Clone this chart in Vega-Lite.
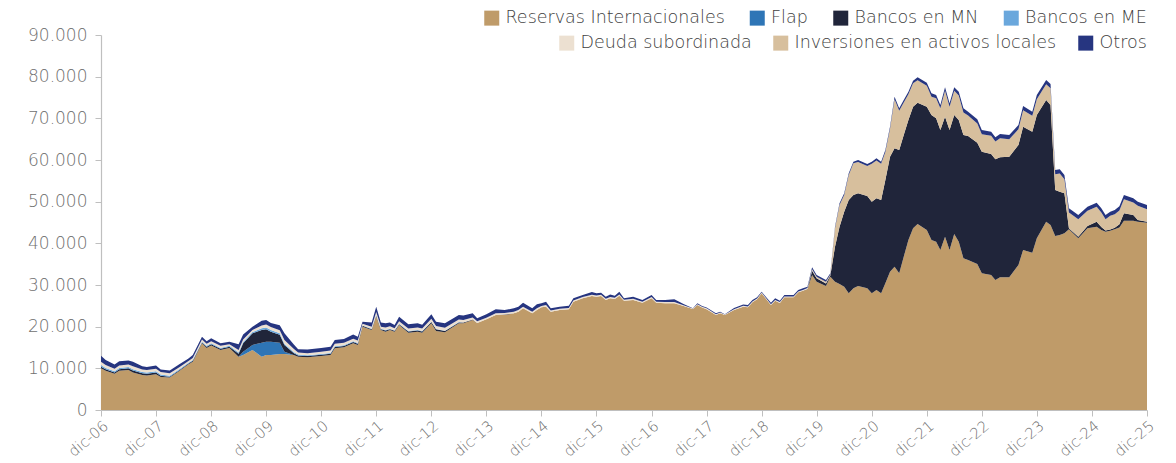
{
  "$schema": "https://vega.github.io/schema/vega-lite/v6.json",
  "width": 1046,
  "height": 375,
  "autosize": {"type": "none"},
  "padding": {"left": 101, "top": 35, "right": 29, "bottom": 53},
  "background": "white",
  "config": {"view": {"stroke": null}, "font": "DejaVu Sans"},
  "datasets": {
    "series": [
      {"code": "R", "serie": "Reservas Internacionales", "rank": 1},
      {"code": "F", "serie": "Flap", "rank": 2},
      {"code": "MN", "serie": "Bancos en MN", "rank": 3},
      {"code": "ME", "serie": "Bancos en ME", "rank": 4},
      {"code": "DS", "serie": "Deuda subordinada", "rank": 5},
      {"code": "IAL", "serie": "Inversiones en activos locales", "rank": 6},
      {"code": "O", "serie": "Otros", "rank": 7}
    ]
  },
  "data": {"values": [
    {"fecha":"2006-12-01","R":10000,"F":0,"MN":400,"ME":400,"DS":800,"IAL":0,"O":1400},
    {"fecha":"2007-01-01","R":9400,"F":0,"MN":400,"ME":300,"DS":700,"IAL":0,"O":1200},
    {"fecha":"2007-03-01","R":8700,"F":0,"MN":300,"ME":300,"DS":600,"IAL":0,"O":1000},
    {"fecha":"2007-04-01","R":9400,"F":0,"MN":400,"ME":300,"DS":600,"IAL":0,"O":1000},
    {"fecha":"2007-06-01","R":9600,"F":0,"MN":400,"ME":300,"DS":600,"IAL":0,"O":1000},
    {"fecha":"2007-07-01","R":9000,"F":0,"MN":500,"ME":300,"DS":700,"IAL":0,"O":1100},
    {"fecha":"2007-09-01","R":8400,"F":0,"MN":400,"ME":300,"DS":600,"IAL":0,"O":800},
    {"fecha":"2007-10-01","R":8300,"F":0,"MN":400,"ME":300,"DS":600,"IAL":0,"O":700},
    {"fecha":"2007-12-01","R":8600,"F":0,"MN":400,"ME":300,"DS":600,"IAL":0,"O":800},
    {"fecha":"2008-01-01","R":7900,"F":0,"MN":300,"ME":300,"DS":600,"IAL":0,"O":600},
    {"fecha":"2008-03-01","R":7800,"F":0,"MN":200,"ME":200,"DS":600,"IAL":0,"O":700},
    {"fecha":"2008-05-01","R":9300,"F":0,"MN":200,"ME":200,"DS":500,"IAL":0,"O":700},
    {"fecha":"2008-07-01","R":10900,"F":0,"MN":200,"ME":200,"DS":400,"IAL":0,"O":600},
    {"fecha":"2008-08-01","R":11600,"F":0,"MN":200,"ME":200,"DS":500,"IAL":0,"O":700},
    {"fecha":"2008-10-01","R":16000,"F":0,"MN":200,"ME":200,"DS":500,"IAL":0,"O":700},
    {"fecha":"2008-11-01","R":14900,"F":0,"MN":300,"ME":200,"DS":500,"IAL":0,"O":600},
    {"fecha":"2008-12-01","R":15500,"F":0,"MN":300,"ME":200,"DS":500,"IAL":0,"O":700},
    {"fecha":"2009-02-01","R":14400,"F":0,"MN":300,"ME":200,"DS":500,"IAL":0,"O":600},
    {"fecha":"2009-04-01","R":14900,"F":0,"MN":300,"ME":200,"DS":400,"IAL":0,"O":600},
    {"fecha":"2009-06-01","R":12800,"F":0,"MN":700,"ME":300,"DS":600,"IAL":0,"O":1400},
    {"fecha":"2009-07-01","R":13200,"F":800,"MN":2000,"ME":300,"DS":600,"IAL":0,"O":1200},
    {"fecha":"2009-09-01","R":14400,"F":1200,"MN":2800,"ME":300,"DS":500,"IAL":0,"O":800},
    {"fecha":"2009-11-01","R":12800,"F":3360,"MN":3040,"ME":400,"DS":700,"IAL":0,"O":1100},
    {"fecha":"2009-12-01","R":13200,"F":3200,"MN":3000,"ME":400,"DS":700,"IAL":0,"O":1100},
    {"fecha":"2010-01-01","R":13200,"F":3200,"MN":2400,"ME":400,"DS":700,"IAL":0,"O":1000},
    {"fecha":"2010-03-01","R":13440,"F":2700,"MN":1900,"ME":400,"DS":700,"IAL":0,"O":1200},
    {"fecha":"2010-04-01","R":13440,"F":560,"MN":1600,"ME":300,"DS":900,"IAL":0,"O":1600},
    {"fecha":"2010-06-01","R":13200,"F":0,"MN":500,"ME":200,"DS":800,"IAL":0,"O":1100},
    {"fecha":"2010-07-01","R":12800,"F":0,"MN":300,"ME":200,"DS":500,"IAL":0,"O":800},
    {"fecha":"2010-09-01","R":12640,"F":0,"MN":300,"ME":200,"DS":500,"IAL":0,"O":900},
    {"fecha":"2010-12-01","R":12960,"F":0,"MN":300,"ME":200,"DS":500,"IAL":0,"O":900},
    {"fecha":"2011-02-01","R":13200,"F":0,"MN":300,"ME":200,"DS":600,"IAL":0,"O":900},
    {"fecha":"2011-03-01","R":14800,"F":0,"MN":300,"ME":200,"DS":600,"IAL":0,"O":900},
    {"fecha":"2011-05-01","R":15040,"F":0,"MN":300,"ME":200,"DS":600,"IAL":0,"O":900},
    {"fecha":"2011-07-01","R":16000,"F":0,"MN":300,"ME":200,"DS":600,"IAL":0,"O":1000},
    {"fecha":"2011-08-01","R":15600,"F":0,"MN":300,"ME":200,"DS":600,"IAL":0,"O":900},
    {"fecha":"2011-09-01","R":20000,"F":0,"MN":200,"ME":100,"DS":400,"IAL":0,"O":500},
    {"fecha":"2011-11-01","R":19200,"F":0,"MN":200,"ME":100,"DS":500,"IAL":0,"O":1000},
    {"fecha":"2011-12-01","R":22500,"F":0,"MN":200,"ME":100,"DS":700,"IAL":0,"O":1300},
    {"fecha":"2012-01-01","R":19200,"F":0,"MN":200,"ME":100,"DS":500,"IAL":0,"O":1000},
    {"fecha":"2012-02-01","R":18800,"F":0,"MN":300,"ME":100,"DS":600,"IAL":0,"O":1000},
    {"fecha":"2012-03-01","R":19200,"F":0,"MN":200,"ME":100,"DS":600,"IAL":0,"O":900},
    {"fecha":"2012-04-01","R":18800,"F":0,"MN":200,"ME":100,"DS":500,"IAL":0,"O":800},
    {"fecha":"2012-05-01","R":20400,"F":0,"MN":200,"ME":100,"DS":600,"IAL":0,"O":1100},
    {"fecha":"2012-07-01","R":18560,"F":0,"MN":300,"ME":100,"DS":600,"IAL":0,"O":1000},
    {"fecha":"2012-09-01","R":18800,"F":0,"MN":300,"ME":100,"DS":600,"IAL":0,"O":1000},
    {"fecha":"2012-10-01","R":18560,"F":0,"MN":300,"ME":100,"DS":600,"IAL":0,"O":900},
    {"fecha":"2012-12-01","R":20800,"F":0,"MN":300,"ME":100,"DS":700,"IAL":0,"O":1100},
    {"fecha":"2013-01-01","R":18960,"F":0,"MN":400,"ME":100,"DS":700,"IAL":0,"O":1000},
    {"fecha":"2013-03-01","R":18640,"F":0,"MN":300,"ME":100,"DS":700,"IAL":0,"O":1100},
    {"fecha":"2013-06-01","R":20800,"F":0,"MN":200,"ME":100,"DS":600,"IAL":0,"O":1100},
    {"fecha":"2013-07-01","R":20800,"F":0,"MN":200,"ME":0,"DS":600,"IAL":0,"O":1100},
    {"fecha":"2013-09-01","R":21600,"F":0,"MN":100,"ME":0,"DS":500,"IAL":0,"O":1000},
    {"fecha":"2013-10-01","R":20900,"F":0,"MN":0,"ME":0,"DS":400,"IAL":0,"O":700},
    {"fecha":"2013-12-01","R":21760,"F":0,"MN":0,"ME":0,"DS":400,"IAL":0,"O":800},
    {"fecha":"2014-02-01","R":22800,"F":0,"MN":0,"ME":0,"DS":400,"IAL":0,"O":960},
    {"fecha":"2014-04-01","R":22800,"F":0,"MN":100,"ME":0,"DS":400,"IAL":0,"O":700},
    {"fecha":"2014-06-01","R":23200,"F":0,"MN":0,"ME":0,"DS":400,"IAL":0,"O":800},
    {"fecha":"2014-07-01","R":23600,"F":0,"MN":0,"ME":0,"DS":400,"IAL":0,"O":800},
    {"fecha":"2014-08-01","R":24400,"F":0,"MN":0,"ME":0,"DS":400,"IAL":0,"O":960},
    {"fecha":"2014-10-01","R":23200,"F":0,"MN":0,"ME":0,"DS":400,"IAL":0,"O":800},
    {"fecha":"2014-11-01","R":24000,"F":0,"MN":0,"ME":0,"DS":400,"IAL":0,"O":1000},
    {"fecha":"2014-12-01","R":24640,"F":0,"MN":0,"ME":0,"DS":300,"IAL":0,"O":700},
    {"fecha":"2015-01-01","R":24800,"F":0,"MN":0,"ME":0,"DS":400,"IAL":0,"O":800},
    {"fecha":"2015-02-01","R":23600,"F":0,"MN":0,"ME":0,"DS":300,"IAL":0,"O":500},
    {"fecha":"2015-04-01","R":24000,"F":0,"MN":0,"ME":0,"DS":300,"IAL":0,"O":500},
    {"fecha":"2015-06-01","R":24200,"F":0,"MN":0,"ME":0,"DS":300,"IAL":0,"O":500},
    {"fecha":"2015-07-01","R":26000,"F":0,"MN":0,"ME":0,"DS":300,"IAL":0,"O":500},
    {"fecha":"2015-09-01","R":26800,"F":0,"MN":0,"ME":0,"DS":300,"IAL":0,"O":500},
    {"fecha":"2015-11-01","R":27360,"F":0,"MN":0,"ME":0,"DS":300,"IAL":0,"O":660},
    {"fecha":"2015-12-01","R":27200,"F":0,"MN":0,"ME":0,"DS":300,"IAL":0,"O":500},
    {"fecha":"2016-01-01","R":27360,"F":0,"MN":0,"ME":0,"DS":300,"IAL":0,"O":500},
    {"fecha":"2016-02-01","R":26400,"F":0,"MN":0,"ME":0,"DS":300,"IAL":0,"O":500},
    {"fecha":"2016-03-01","R":26800,"F":0,"MN":0,"ME":0,"DS":300,"IAL":0,"O":600},
    {"fecha":"2016-04-01","R":26640,"F":0,"MN":0,"ME":0,"DS":300,"IAL":0,"O":500},
    {"fecha":"2016-05-01","R":27400,"F":0,"MN":0,"ME":0,"DS":300,"IAL":0,"O":700},
    {"fecha":"2016-06-01","R":26240,"F":0,"MN":0,"ME":0,"DS":200,"IAL":0,"O":360},
    {"fecha":"2016-08-01","R":26400,"F":0,"MN":0,"ME":0,"DS":300,"IAL":0,"O":500},
    {"fecha":"2016-10-01","R":25760,"F":0,"MN":0,"ME":0,"DS":200,"IAL":0,"O":440},
    {"fecha":"2016-12-01","R":26800,"F":0,"MN":0,"ME":0,"DS":300,"IAL":0,"O":500},
    {"fecha":"2017-01-01","R":25760,"F":0,"MN":0,"ME":0,"DS":200,"IAL":0,"O":440},
    {"fecha":"2017-03-01","R":25600,"F":0,"MN":0,"ME":0,"DS":300,"IAL":0,"O":500},
    {"fecha":"2017-05-01","R":25600,"F":0,"MN":0,"ME":0,"DS":300,"IAL":0,"O":660},
    {"fecha":"2017-07-01","R":24960,"F":0,"MN":0,"ME":0,"DS":200,"IAL":0,"O":280},
    {"fecha":"2017-09-01","R":24240,"F":0,"MN":0,"ME":0,"DS":100,"IAL":0,"O":60},
    {"fecha":"2017-10-01","R":25200,"F":0,"MN":0,"ME":0,"DS":200,"IAL":0,"O":200},
    {"fecha":"2017-11-01","R":24600,"F":0,"MN":0,"ME":0,"DS":200,"IAL":0,"O":160},
    {"fecha":"2017-12-01","R":24200,"F":0,"MN":0,"ME":0,"DS":200,"IAL":0,"O":200},
    {"fecha":"2018-02-01","R":22800,"F":0,"MN":0,"ME":0,"DS":200,"IAL":0,"O":200},
    {"fecha":"2018-03-01","R":23200,"F":0,"MN":0,"ME":0,"DS":200,"IAL":0,"O":200},
    {"fecha":"2018-04-01","R":22800,"F":0,"MN":0,"ME":0,"DS":100,"IAL":0,"O":60},
    {"fecha":"2018-06-01","R":24000,"F":0,"MN":0,"ME":0,"DS":200,"IAL":0,"O":300},
    {"fecha":"2018-08-01","R":24800,"F":0,"MN":0,"ME":0,"DS":200,"IAL":0,"O":300},
    {"fecha":"2018-09-01","R":24640,"F":0,"MN":0,"ME":0,"DS":200,"IAL":0,"O":360},
    {"fecha":"2018-10-01","R":25840,"F":0,"MN":0,"ME":0,"DS":200,"IAL":0,"O":360},
    {"fecha":"2018-11-01","R":26560,"F":0,"MN":0,"ME":0,"DS":200,"IAL":0,"O":280},
    {"fecha":"2018-12-01","R":28000,"F":0,"MN":0,"ME":0,"DS":200,"IAL":0,"O":200},
    {"fecha":"2019-02-01","R":25200,"F":0,"MN":0,"ME":0,"DS":200,"IAL":0,"O":360},
    {"fecha":"2019-03-01","R":26200,"F":0,"MN":0,"ME":0,"DS":200,"IAL":0,"O":400},
    {"fecha":"2019-04-01","R":25700,"F":0,"MN":0,"ME":0,"DS":200,"IAL":0,"O":340},
    {"fecha":"2019-05-01","R":27040,"F":0,"MN":0,"ME":0,"DS":200,"IAL":0,"O":360},
    {"fecha":"2019-07-01","R":27040,"F":0,"MN":0,"ME":0,"DS":200,"IAL":0,"O":360},
    {"fecha":"2019-08-01","R":28240,"F":0,"MN":0,"ME":0,"DS":200,"IAL":0,"O":360},
    {"fecha":"2019-09-01","R":28600,"F":0,"MN":0,"ME":0,"DS":200,"IAL":0,"O":400},
    {"fecha":"2019-10-01","R":28960,"F":0,"MN":100,"ME":0,"DS":200,"IAL":0,"O":340},
    {"fecha":"2019-11-01","R":32400,"F":0,"MN":1000,"ME":0,"DS":200,"IAL":200,"O":440},
    {"fecha":"2019-12-01","R":30800,"F":0,"MN":800,"ME":0,"DS":100,"IAL":300,"O":400},
    {"fecha":"2020-02-01","R":29760,"F":0,"MN":600,"ME":0,"DS":100,"IAL":300,"O":440},
    {"fecha":"2020-03-01","R":32000,"F":0,"MN":300,"ME":0,"DS":0,"IAL":200,"O":300},
    {"fecha":"2020-04-01","R":30800,"F":0,"MN":8400,"ME":0,"DS":0,"IAL":4400,"O":400},
    {"fecha":"2020-05-01","R":30240,"F":0,"MN":13760,"ME":0,"DS":0,"IAL":5200,"O":400},
    {"fecha":"2020-06-01","R":29600,"F":0,"MN":18000,"ME":0,"DS":0,"IAL":4000,"O":400},
    {"fecha":"2020-07-01","R":28000,"F":0,"MN":22400,"ME":0,"DS":0,"IAL":6000,"O":400},
    {"fecha":"2020-08-01","R":29200,"F":0,"MN":22400,"ME":0,"DS":0,"IAL":7600,"O":400},
    {"fecha":"2020-09-01","R":29760,"F":0,"MN":22240,"ME":0,"DS":0,"IAL":7500,"O":500},
    {"fecha":"2020-11-01","R":29200,"F":0,"MN":22160,"ME":0,"DS":0,"IAL":7200,"O":480},
    {"fecha":"2020-12-01","R":28000,"F":0,"MN":22000,"ME":0,"DS":0,"IAL":9100,"O":500},
    {"fecha":"2021-01-01","R":28800,"F":0,"MN":22000,"ME":0,"DS":0,"IAL":9100,"O":500},
    {"fecha":"2021-02-01","R":28000,"F":0,"MN":22400,"ME":0,"DS":0,"IAL":8700,"O":500},
    {"fecha":"2021-03-01","R":30400,"F":0,"MN":24800,"ME":0,"DS":0,"IAL":6700,"O":500},
    {"fecha":"2021-04-01","R":33200,"F":0,"MN":27600,"ME":0,"DS":0,"IAL":6700,"O":500},
    {"fecha":"2021-05-01","R":34400,"F":0,"MN":28400,"ME":0,"DS":0,"IAL":11800,"O":600},
    {"fecha":"2021-06-01","R":32800,"F":0,"MN":29600,"ME":0,"DS":0,"IAL":9400,"O":600},
    {"fecha":"2021-07-01","R":36800,"F":0,"MN":29200,"ME":0,"DS":0,"IAL":7800,"O":600},
    {"fecha":"2021-08-01","R":40800,"F":0,"MN":28800,"ME":0,"DS":0,"IAL":6200,"O":600},
    {"fecha":"2021-09-01","R":43600,"F":0,"MN":29200,"ME":0,"DS":0,"IAL":5600,"O":640},
    {"fecha":"2021-10-01","R":44640,"F":0,"MN":29120,"ME":0,"DS":0,"IAL":5400,"O":680},
    {"fecha":"2021-12-01","R":43200,"F":0,"MN":29600,"ME":0,"DS":0,"IAL":5000,"O":760},
    {"fecha":"2022-01-01","R":40800,"F":0,"MN":30000,"ME":0,"DS":0,"IAL":4400,"O":800},
    {"fecha":"2022-02-01","R":40400,"F":0,"MN":29600,"ME":0,"DS":0,"IAL":4800,"O":800},
    {"fecha":"2022-03-01","R":38400,"F":0,"MN":28800,"ME":0,"DS":0,"IAL":5200,"O":800},
    {"fecha":"2022-04-01","R":41600,"F":0,"MN":28800,"ME":0,"DS":0,"IAL":6200,"O":840},
    {"fecha":"2022-05-01","R":38400,"F":0,"MN":28800,"ME":0,"DS":0,"IAL":5600,"O":800},
    {"fecha":"2022-06-01","R":42240,"F":0,"MN":28560,"ME":0,"DS":0,"IAL":5800,"O":840},
    {"fecha":"2022-07-01","R":40400,"F":0,"MN":29200,"ME":0,"DS":0,"IAL":5900,"O":900},
    {"fecha":"2022-08-01","R":36400,"F":0,"MN":29600,"ME":0,"DS":0,"IAL":5400,"O":1000},
    {"fecha":"2022-09-01","R":36000,"F":0,"MN":29760,"ME":0,"DS":0,"IAL":4900,"O":940},
    {"fecha":"2022-11-01","R":35040,"F":0,"MN":29120,"ME":0,"DS":0,"IAL":4600,"O":1000},
    {"fecha":"2022-12-01","R":32800,"F":0,"MN":29200,"ME":0,"DS":0,"IAL":4200,"O":1000},
    {"fecha":"2023-02-01","R":32400,"F":0,"MN":29040,"ME":0,"DS":0,"IAL":4400,"O":960},
    {"fecha":"2023-03-01","R":31200,"F":0,"MN":28960,"ME":0,"DS":0,"IAL":4300,"O":980},
    {"fecha":"2023-04-01","R":31840,"F":0,"MN":28800,"ME":0,"DS":0,"IAL":4600,"O":1000},
    {"fecha":"2023-06-01","R":31840,"F":0,"MN":28960,"ME":0,"DS":0,"IAL":4200,"O":1000},
    {"fecha":"2023-08-01","R":34800,"F":0,"MN":28800,"ME":0,"DS":0,"IAL":3800,"O":1000},
    {"fecha":"2023-09-01","R":38400,"F":0,"MN":29600,"ME":0,"DS":0,"IAL":3960,"O":1000},
    {"fecha":"2023-11-01","R":37760,"F":0,"MN":29040,"ME":0,"DS":0,"IAL":3800,"O":1000},
    {"fecha":"2023-12-01","R":41200,"F":0,"MN":29600,"ME":0,"DS":0,"IAL":3800,"O":1000},
    {"fecha":"2024-02-01","R":45200,"F":0,"MN":29200,"ME":0,"DS":0,"IAL":3800,"O":1000},
    {"fecha":"2024-03-01","R":44400,"F":0,"MN":28800,"ME":0,"DS":0,"IAL":4040,"O":1000},
    {"fecha":"2024-04-01","R":41760,"F":0,"MN":11040,"ME":0,"DS":0,"IAL":3800,"O":1000},
    {"fecha":"2024-05-01","R":42000,"F":0,"MN":10400,"ME":0,"DS":0,"IAL":4360,"O":1000},
    {"fecha":"2024-06-01","R":42400,"F":0,"MN":9600,"ME":0,"DS":0,"IAL":3400,"O":1000},
    {"fecha":"2024-07-01","R":43360,"F":0,"MN":240,"ME":0,"DS":0,"IAL":3800,"O":1000},
    {"fecha":"2024-09-01","R":41200,"F":0,"MN":400,"ME":0,"DS":0,"IAL":4200,"O":1000},
    {"fecha":"2024-11-01","R":43600,"F":0,"MN":560,"ME":0,"DS":0,"IAL":3640,"O":1000},
    {"fecha":"2025-01-01","R":44000,"F":0,"MN":1200,"ME":0,"DS":0,"IAL":3560,"O":1000},
    {"fecha":"2025-02-01","R":43200,"F":0,"MN":700,"ME":0,"DS":0,"IAL":3500,"O":1000},
    {"fecha":"2025-03-01","R":42800,"F":0,"MN":300,"ME":0,"DS":0,"IAL":2700,"O":1000},
    {"fecha":"2025-04-01","R":43040,"F":0,"MN":300,"ME":0,"DS":0,"IAL":3260,"O":1000},
    {"fecha":"2025-05-01","R":43360,"F":0,"MN":400,"ME":0,"DS":0,"IAL":3240,"O":1000},
    {"fecha":"2025-06-01","R":43800,"F":0,"MN":800,"ME":0,"DS":0,"IAL":3300,"O":1000},
    {"fecha":"2025-07-01","R":45440,"F":0,"MN":1760,"ME":0,"DS":0,"IAL":3400,"O":1000},
    {"fecha":"2025-09-01","R":45440,"F":0,"MN":1360,"ME":0,"DS":0,"IAL":3000,"O":1000},
    {"fecha":"2025-10-01","R":45200,"F":0,"MN":400,"ME":0,"DS":0,"IAL":3400,"O":1000},
    {"fecha":"2025-12-01","R":44960,"F":0,"MN":240,"ME":0,"DS":0,"IAL":3000,"O":1000}
  ]},
  "transform": [
    {"fold": ["R", "F", "MN", "ME", "DS", "IAL", "O"], "as": ["code", "valor"]},
    {"lookup": "code", "from": {"data": {"name": "series"}, "key": "code", "fields": ["serie", "rank"]}}
  ],
  "layer": [
    {
      "mark": {"type": "area", "interpolate": "linear", "strokeWidth": 0},
      "encoding": {
        "x": {
          "field": "fecha", "type": "temporal",
          "scale": {"domain": [{"year": 2006, "month": 12, "date": 1}, {"year": 2025, "month": 12, "date": 1}]},
          "axis": {
            "title": null, "grid": false,
            "values": [
              {"year": 2006, "month": 12, "date": 1}, {"year": 2007, "month": 12, "date": 1},
              {"year": 2008, "month": 12, "date": 1}, {"year": 2009, "month": 12, "date": 1},
              {"year": 2010, "month": 12, "date": 1}, {"year": 2011, "month": 12, "date": 1},
              {"year": 2012, "month": 12, "date": 1}, {"year": 2013, "month": 12, "date": 1},
              {"year": 2014, "month": 12, "date": 1}, {"year": 2015, "month": 12, "date": 1},
              {"year": 2016, "month": 12, "date": 1}, {"year": 2017, "month": 12, "date": 1},
              {"year": 2018, "month": 12, "date": 1}, {"year": 2019, "month": 12, "date": 1},
              {"year": 2020, "month": 12, "date": 1}, {"year": 2021, "month": 12, "date": 1},
              {"year": 2022, "month": 12, "date": 1}, {"year": 2023, "month": 12, "date": 1},
              {"year": 2024, "month": 12, "date": 1}, {"year": 2025, "month": 12, "date": 1}
            ],
            "labelExpr": "'dic-' + timeFormat(datum.value, '%y')",
            "labelAngle": -40, "labelFontSize": 15, "labelColor": "#6f6f6f",
            "labelFont": "DejaVu Sans", "labelFontWeight": 200,
            "labelPadding": 2, "labelOverlap": false, "labelBound": false,
            "tickColor": "#bfbfbf", "tickSize": 6, "domainColor": "#bfbfbf", "domainWidth": 1.2
          }
        },
        "y": {
          "field": "valor", "type": "quantitative", "stack": "zero",
          "scale": {"domain": [0, 90000], "nice": false},
          "axis": {
            "title": null, "grid": false,
            "values": [0, 10000, 20000, 30000, 40000, 50000, 60000, 70000, 80000, 90000],
            "labelExpr": "replace(format(datum.value, ','), ',', '.')",
            "labelFontSize": 17, "labelColor": "#6f6f6f",
            "labelFont": "DejaVu Sans", "labelFontWeight": 200,
            "labelPadding": 8, "tickColor": "#bfbfbf", "tickSize": 6,
            "domainColor": "#bfbfbf", "domainWidth": 1.2
          }
        },
        "color": {
          "field": "serie", "type": "nominal",
          "scale": {
            "domain": ["Reservas Internacionales", "Flap", "Bancos en MN", "Bancos en ME", "Deuda subordinada", "Inversiones en activos locales", "Otros"],
            "range": ["#bf9b69", "#2e75b6", "#20253a", "#6aa7dc", "#ece0d1", "#d7bf9d", "#263580"]
          },
          "legend": {
            "values": ["Reservas Internacionales", "Flap", "Bancos en MN", "Bancos en ME"],
            "orient": "none", "direction": "horizontal", "legendX": 382, "legendY": -26,
            "title": null, "symbolType": "square", "symbolSize": 225, "symbolStrokeWidth": 0,
            "labelFontSize": 17.5, "labelFont": "DejaVu Sans", "labelFontWeight": 200, "labelColor": "#404040",
            "columnPadding": 23.5, "labelOffset": 5, "padding": 0, "labelLimit": 400
          }
        },
        "order": {"field": "rank", "type": "quantitative"}
      }
    },
    {
      "mark": {"type": "square", "opacity": 0},
      "encoding": {
        "fill": {
          "field": "serie", "type": "nominal",
          "scale": {
            "domain": ["Deuda subordinada", "Inversiones en activos locales", "Otros"],
            "range": ["#ece0d1", "#d7bf9d", "#263580"]
          },
          "legend": {
            "orient": "none", "direction": "horizontal", "legendX": 457, "legendY": -1,
            "title": null, "symbolType": "square", "symbolSize": 225, "symbolStrokeWidth": 0, "symbolOpacity": 1,
            "labelFontSize": 17.5, "labelFont": "DejaVu Sans", "labelFontWeight": 200, "labelColor": "#404040",
            "columnPadding": 20, "labelOffset": 5, "padding": 0, "labelLimit": 400
          }
        }
      }
    }
  ]
}
